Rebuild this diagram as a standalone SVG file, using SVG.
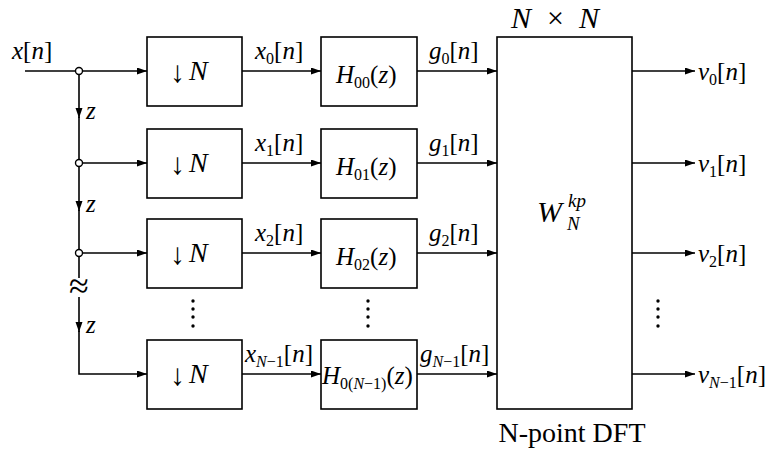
<svg xmlns="http://www.w3.org/2000/svg" width="782" height="450" viewBox="0 0 782 450">
<style>
.t{font-family:"Liberation Serif","Times New Roman",serif;font-size:25px;fill:#000}
.i{font-style:italic}
.s{font-size:16px}
.box{fill:#fff;stroke:#000;stroke-width:1.6}
.ln{fill:none;stroke:#000;stroke-width:1.6}
.jn{fill:#fff;stroke:#000;stroke-width:1.4}
.dot{fill:#000}
.arr{font-size:30px}
.big{font-size:28px}
</style>
<defs>
<marker id="ah" markerUnits="userSpaceOnUse" markerWidth="11" markerHeight="8" refX="10" refY="3.5" orient="auto">
<path d="M0,0 L10,3.5 L0,7 z" fill="#000"/>
</marker>
</defs>
<rect width="782" height="450" fill="#fff"/>

<g id="connectors">
<path class="ln" d="M25,71 H147" marker-end="url(#ah)"/>
<path class="ln" d="M79,163 H147" marker-end="url(#ah)"/>
<path class="ln" d="M79,253 H147" marker-end="url(#ah)"/>
<path class="ln" d="M79,71 V118" marker-end="url(#ah)"/>
<path class="ln" d="M79,117 V163"/>
<path class="ln" d="M79,163 V211" marker-end="url(#ah)"/>
<path class="ln" d="M79,210 V278"/>
<path class="ln" d="M79,297 V332" marker-end="url(#ah)"/>
<path class="ln" d="M79,331 V374 H147" marker-end="url(#ah)"/>
<path class="ln" d="M242,71 H321" marker-end="url(#ah)"/>
<path class="ln" d="M242,163 H321" marker-end="url(#ah)"/>
<path class="ln" d="M242,253 H321" marker-end="url(#ah)"/>
<path class="ln" d="M242,374 H321" marker-end="url(#ah)"/>
<path class="ln" d="M417,71 H497" marker-end="url(#ah)"/>
<path class="ln" d="M417,163 H497" marker-end="url(#ah)"/>
<path class="ln" d="M417,253 H497" marker-end="url(#ah)"/>
<path class="ln" d="M417,374 H497" marker-end="url(#ah)"/>
<path class="ln" d="M632,71 H695" marker-end="url(#ah)"/>
<path class="ln" d="M632,163 H695" marker-end="url(#ah)"/>
<path class="ln" d="M632,253 H695" marker-end="url(#ah)"/>
<path class="ln" d="M632,374 H695" marker-end="url(#ah)"/>
<circle class="jn" cx="79" cy="71" r="3.5"/>
<circle class="jn" cx="79" cy="163" r="3.5"/>
<circle class="jn" cx="79" cy="253" r="3.5"/>
<text class="t" x="79" y="298" text-anchor="middle" style="font-size:36px">≈</text>
<text class="t i" x="86" y="119">z</text>
<text class="t i" x="86" y="212">z</text>
<text class="t i" x="86" y="333">z</text>
</g>

<g id="input">
<text class="t" x="12" y="59"><tspan class="i">x</tspan>[<tspan class="i">n</tspan>]</text>
</g>

<g id="down0"><rect class="box" x="147" y="37" width="95" height="69"/>
<text class="t arr" x="170" y="82">↓</text><text class="t i big" x="189" y="80">N</text></g>
<g id="down1"><rect class="box" x="147" y="129" width="95" height="69"/>
<text class="t arr" x="170" y="174">↓</text><text class="t i big" x="189" y="172">N</text></g>
<g id="down2"><rect class="box" x="147" y="219" width="95" height="69"/>
<text class="t arr" x="170" y="264">↓</text><text class="t i big" x="189" y="262">N</text></g>
<g id="down3"><rect class="box" x="147" y="340" width="95" height="69"/>
<text class="t arr" x="170" y="385">↓</text><text class="t i big" x="189" y="383">N</text></g>

<g id="sig-x">
<text class="t" x="255" y="59"><tspan class="i">x</tspan><tspan class="s" dy="5">0</tspan><tspan dy="-5">[</tspan><tspan class="i">n</tspan>]</text>
<text class="t" x="255" y="151"><tspan class="i">x</tspan><tspan class="s" dy="5">1</tspan><tspan dy="-5">[</tspan><tspan class="i">n</tspan>]</text>
<text class="t" x="255" y="241"><tspan class="i">x</tspan><tspan class="s" dy="5">2</tspan><tspan dy="-5">[</tspan><tspan class="i">n</tspan>]</text>
<text class="t" x="245" y="362"><tspan class="i">x</tspan><tspan class="s i" dy="5">N</tspan><tspan class="s">−1</tspan><tspan dy="-5">[</tspan><tspan class="i">n</tspan>]</text>
</g>

<g id="H0"><rect class="box" x="321" y="37" width="96" height="69"/>
<text class="t" x="336" y="83"><tspan class="i">H</tspan><tspan class="s" dy="5">00</tspan><tspan dy="-5">(</tspan><tspan class="i">z</tspan>)</text></g>
<g id="H1"><rect class="box" x="321" y="129" width="96" height="69"/>
<text class="t" x="336" y="175"><tspan class="i">H</tspan><tspan class="s" dy="5">01</tspan><tspan dy="-5">(</tspan><tspan class="i">z</tspan>)</text></g>
<g id="H2"><rect class="box" x="321" y="219" width="96" height="69"/>
<text class="t" x="336" y="265"><tspan class="i">H</tspan><tspan class="s" dy="5">02</tspan><tspan dy="-5">(</tspan><tspan class="i">z</tspan>)</text></g>
<g id="H3"><rect class="box" x="321" y="340" width="96" height="69"/>
<text class="t" x="322" y="384"><tspan class="i">H</tspan><tspan class="s" dy="5">0(</tspan><tspan class="s i">N</tspan><tspan class="s">−1)</tspan><tspan dy="-5">(</tspan><tspan class="i">z</tspan>)</text></g>

<g id="sig-g">
<text class="t" x="429" y="59"><tspan class="i">g</tspan><tspan class="s" dy="5">0</tspan><tspan dy="-5">[</tspan><tspan class="i">n</tspan>]</text>
<text class="t" x="429" y="151"><tspan class="i">g</tspan><tspan class="s" dy="5">1</tspan><tspan dy="-5">[</tspan><tspan class="i">n</tspan>]</text>
<text class="t" x="429" y="241"><tspan class="i">g</tspan><tspan class="s" dy="5">2</tspan><tspan dy="-5">[</tspan><tspan class="i">n</tspan>]</text>
<text class="t" x="420" y="362"><tspan class="i">g</tspan><tspan class="s i" dy="5">N</tspan><tspan class="s">−1</tspan><tspan dy="-5">[</tspan><tspan class="i">n</tspan>]</text>
</g>

<g id="dft"><rect class="box" x="497" y="37" width="135" height="372"/>
<text class="t" y="28" style="font-size:30px"><tspan class="i" x="511">N</tspan><tspan x="547">×</tspan><tspan class="i" x="579">N</tspan></text>
<text class="t i" x="537" y="222" style="font-size:30px">W</text>
<text class="t i" x="568" y="207" style="font-size:19px">kp</text>
<text class="t i" x="567" y="230" style="font-size:19px">N</text>
<text class="t" x="572" y="442" text-anchor="middle" style="font-size:28px">N-point DFT</text>
</g>

<g id="outputs">
<text class="t" x="698" y="80"><tspan class="i">v</tspan><tspan class="s" dy="5">0</tspan><tspan dy="-5">[</tspan><tspan class="i">n</tspan>]</text>
<text class="t" x="698" y="172"><tspan class="i">v</tspan><tspan class="s" dy="5">1</tspan><tspan dy="-5">[</tspan><tspan class="i">n</tspan>]</text>
<text class="t" x="698" y="262"><tspan class="i">v</tspan><tspan class="s" dy="5">2</tspan><tspan dy="-5">[</tspan><tspan class="i">n</tspan>]</text>
<text class="t" x="698" y="383"><tspan class="i">v</tspan><tspan class="s i" dy="5">N</tspan><tspan class="s">−1</tspan><tspan dy="-5">[</tspan><tspan class="i">n</tspan>]</text>
</g>

<g id="ellipses">
<circle class="dot" cx="193" cy="301" r="1.7"/><circle class="dot" cx="193" cy="309" r="1.7"/><circle class="dot" cx="193" cy="317" r="1.7"/><circle class="dot" cx="193" cy="326" r="1.7"/>
<circle class="dot" cx="368" cy="301" r="1.7"/><circle class="dot" cx="368" cy="309" r="1.7"/><circle class="dot" cx="368" cy="317" r="1.7"/><circle class="dot" cx="368" cy="326" r="1.7"/>
<circle class="dot" cx="658" cy="301" r="1.7"/><circle class="dot" cx="658" cy="309" r="1.7"/><circle class="dot" cx="658" cy="317" r="1.7"/><circle class="dot" cx="658" cy="326" r="1.7"/>
</g>
</svg>
